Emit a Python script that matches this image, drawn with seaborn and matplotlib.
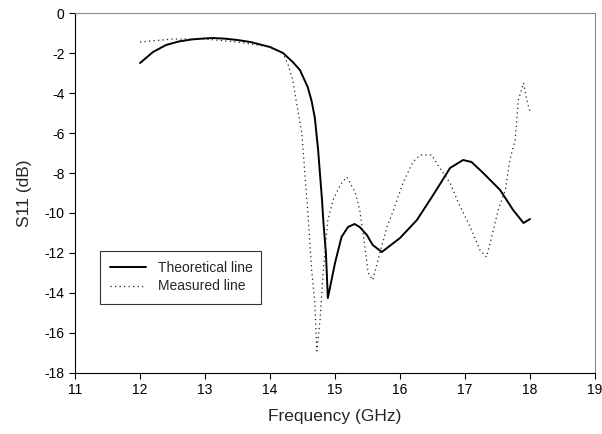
import matplotlib
matplotlib.use("Agg")
import matplotlib.pyplot as plt
import pandas as pd
import seaborn as sns

# theoretical S11 (solid)
theo_freq = [12.0, 12.2, 12.4, 12.6, 12.8, 13.0, 13.12, 13.3, 13.5, 13.7, 14.0,
             14.2, 14.35, 14.46, 14.58, 14.64, 14.69, 14.74, 14.8, 14.82, 14.86, 14.89,
             15.0, 15.1, 15.2, 15.3, 15.38, 15.49, 15.58, 15.72, 15.8, 16.0,
             16.26, 16.51, 16.77, 16.97, 17.1, 17.28, 17.54, 17.74, 17.9, 18.0]
theo_s11 = [-2.5, -1.95, -1.6, -1.42, -1.32, -1.27, -1.25, -1.28, -1.35, -1.45, -1.7,
            -2.0, -2.45, -2.85, -3.7, -4.4, -5.25, -6.85, -9.35, -10.4, -12.0, -14.25,
            -12.5, -11.2, -10.7, -10.55, -10.7, -11.1, -11.6, -11.95, -11.75, -11.25,
            -10.35, -9.1, -7.75, -7.35, -7.45, -8.0, -8.85, -9.85, -10.5, -10.3]

# measured S11 (dotted)
meas_freq = [12.0, 12.5, 13.0, 13.5, 14.0, 14.2, 14.28, 14.35, 14.4, 14.49, 14.54,
             14.59, 14.64, 14.69, 14.72, 14.77, 14.82, 14.89, 14.97, 15.08, 15.18,
             15.31, 15.38, 15.46, 15.51, 15.58, 15.69, 15.8, 15.9, 16.05, 16.2,
             16.31, 16.49, 16.58, 16.77, 16.9, 17.08, 17.23, 17.33, 17.41, 17.51,
             17.62, 17.69, 17.77, 17.8, 17.82, 17.9, 17.95, 18.0]
meas_s11 = [-1.45, -1.3, -1.3, -1.45, -1.7, -2.0, -2.6, -3.35, -4.35, -6.0, -8.2,
            -10.35, -12.85, -14.5, -16.9, -15.35, -12.85, -10.35, -9.35, -8.6, -8.2,
            -8.95, -9.85, -11.7, -13.0, -13.35, -12.0, -10.7, -9.85, -8.45, -7.45,
            -7.1, -7.1, -7.6, -8.5, -9.5, -10.7, -11.85, -12.2, -11.2, -9.85,
            -8.85, -7.35, -6.35, -5.2, -4.35, -3.5, -4.35, -4.95]

theo = pd.DataFrame({"freq": theo_freq, "s11": theo_s11})
meas = pd.DataFrame({"freq": meas_freq, "s11": meas_s11})


def main() -> None:
    sns.set_style("ticks")
    plt.rcParams["font.family"] = ["Liberation Sans", "DejaVu Sans"]
    plt.rcParams["axes.unicode_minus"] = False

    fig = plt.figure(figsize=(6.02, 4.34), dpi=100)
    ax = fig.add_axes([0.1246, 0.1406, 0.8638, 0.8294])

    sns.lineplot(data=theo, x="freq", y="s11", color="black", linewidth=1.4,
                 label="Theoretical line", ax=ax)
    sns.lineplot(data=meas, x="freq", y="s11", color="#222222", linewidth=0.9,
                 linestyle=(0, (1, 2.6)), label="Measured line", ax=ax)

    ax.set_xlim(11, 19)
    ax.set_ylim(-18, 0)
    ax.set_xticks(range(11, 20))
    ax.set_yticks(range(-18, 1, 2))
    ax.tick_params(direction="out", length=4, width=0.8, labelsize=10, colors="black")
    for side in ["top", "right", "left", "bottom"]:
        ax.spines[side].set_visible(True)
        ax.spines[side].set_linewidth(0.8)
        ax.spines[side].set_color("black")
    ax.spines["top"].set_color("#888888")
    ax.spines["right"].set_color("#888888")

    ax.set_xlabel("Frequency (GHz)", fontsize=12.5, labelpad=8)
    ax.set_ylabel("S11 (dB)", fontsize=12.5, labelpad=9)

    leg = ax.legend(loc="lower left", bbox_to_anchor=(0.048, 0.192, 0.31, 0.15),
                    mode="expand", frameon=True, fancybox=False, fontsize=10,
                    handlelength=2.6, borderpad=0.75, labelspacing=0.3,
                    borderaxespad=0)
    leg.get_frame().set_edgecolor("black")
    leg.get_frame().set_linewidth(0.8)

    fig.savefig("out.png", dpi=100, facecolor="white")
    plt.close(fig)


if __name__ == "__main__":
    main()
